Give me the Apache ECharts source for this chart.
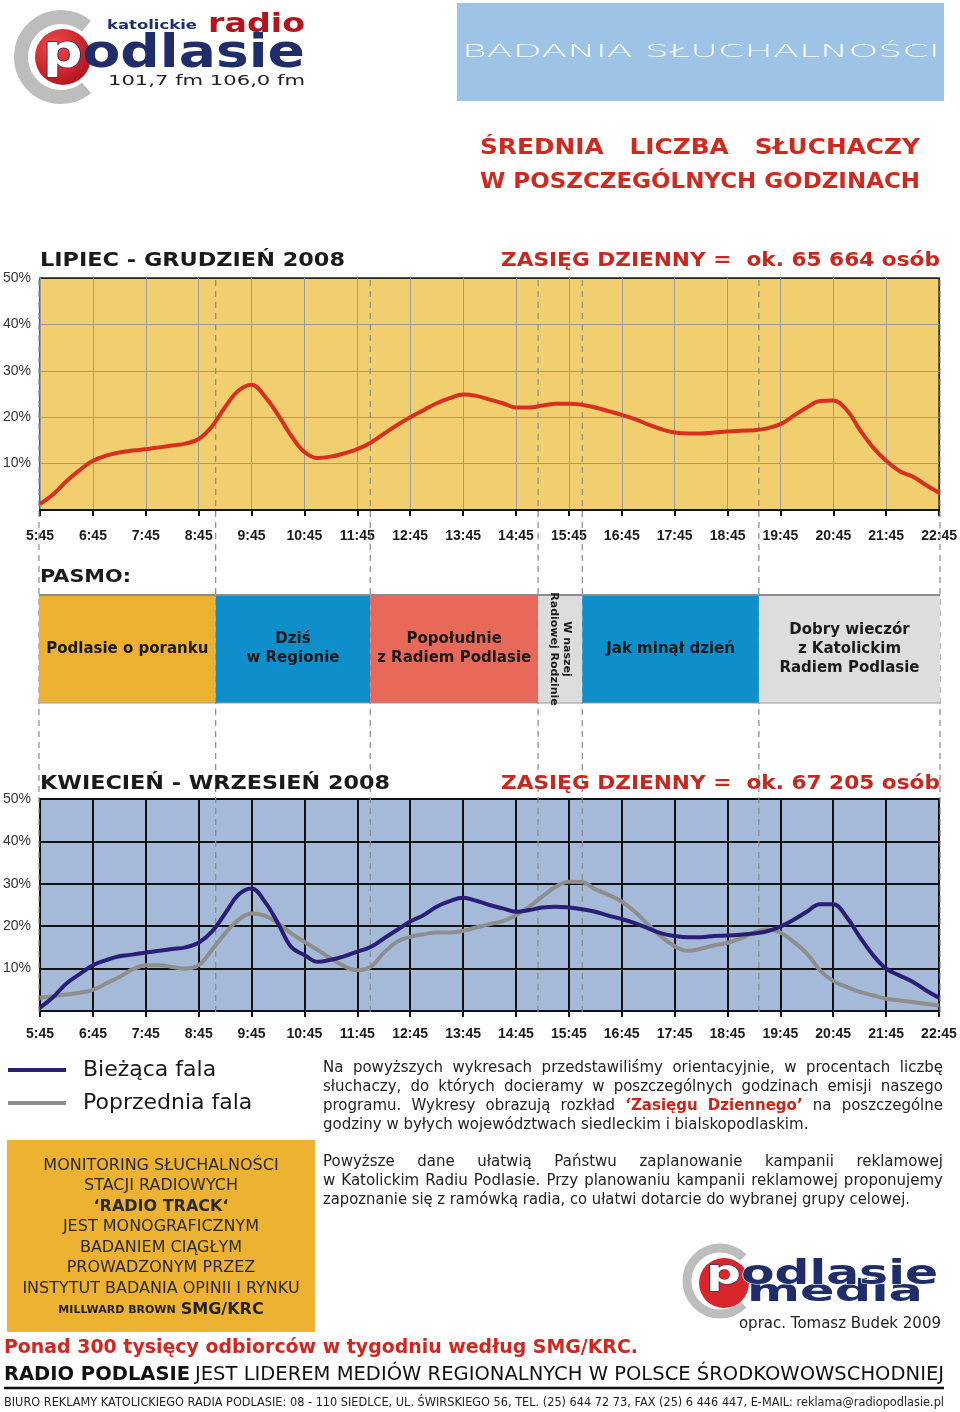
<!DOCTYPE html>
<html><head><meta charset="utf-8">
<script src="https://cdn.jsdelivr.net/npm/echarts@6/dist/echarts.min.js"></script>
<style>html,body{margin:0;padding:0;background:#fff}#c{width:960px;height:1412px}</style>
</head><body><div id="c"></div>
<script>
// ---------- DATA ----------
const hourLabels = ['5:45','6:45','7:45','8:45','9:45','10:45','11:45','12:45','13:45','14:45','15:45','16:45','17:45','18:45','19:45','20:45','21:45','22:45'];
// quarter-hour samples from 5:45 to 22:45 (percent of listeners)
const lipiecGrudzien = [
 1.3,3.4,6.2,8.6, 10.6,11.7,12.4,12.8, 13.1,13.5,13.9,14.3, 15.3,18.0,22.2,25.7,
 27.0,24.5,20.5,16.0, 12.5,11.2,11.5,12.2, 13.1,14.5,16.4,18.3, 20.0,21.5,23.0,24.1,
 24.9,24.6,23.8,23.0, 22.1,22.1,22.5,22.9, 22.9,22.7,22.1,21.3, 20.5,19.6,18.4,17.4,
 16.7,16.5,16.5,16.7, 16.9,17.1,17.2,17.6, 18.5,20.3,22.1,23.5, 23.6,21.6,17.3,13.5,
 10.6,8.4,7.2,5.4, 3.7];
const biezacaFala = [
 0.8,3.3,6.5,8.7, 10.8,12.0,12.9,13.3, 13.8,14.2,14.6,15.0, 16.1,18.7,23.0,27.4,
 28.9,25.8,20.7,15.1, 13.2,11.6,12.1,12.9, 14.0,15.1,17.1,19.1, 21.1,22.6,24.6,25.9,
 26.7,26.0,25.0,24.2, 23.4,23.8,24.4,24.6, 24.4,24.0,23.4,22.5, 21.7,20.7,19.5,18.3,
 17.7,17.4,17.4,17.7, 17.8,18.0,18.3,18.8, 19.9,21.5,23.4,25.2, 25.2,22.2,17.5,13.2,
 10.0,8.4,6.9,4.9, 3.1];
const poprzedniaFala = [
 3.1,3.5,3.9,4.3, 5.0,6.5,8.0,9.8, 10.8,10.8,10.4,10.0, 10.8,14.4,18.3,21.5,
 23.0,22.5,20.7,18.3, 16.3,14.4,12.4,10.6, 9.6,10.4,13.7,16.3, 17.5,18.1,18.5,18.5,
 18.9,19.7,20.5,21.2, 22.6,24.6,27.0,29.3, 30.5,30.4,28.7,27.4, 25.8,23.4,20.4,17.5,
 15.3,14.2,14.7,15.5, 16.1,17.1,18.5,19.2, 18.5,16.3,13.6,9.6, 7.1,5.7,4.5,3.7,
 2.9,2.5,2.1,1.7, 1.3];
const pasmoNames = ['Podlasie o poranku','Dziś\nw Regionie','Popołudnie\nz Radiem Podlasie','W naszej\nRadiowej Rodzinie','Jak minął dzień','Dobry wieczór\nz Katolickim\nRadiem Podlasie'];
const pasmoStart = ['5:45','9:05','12:00','15:10','16:00','19:20'];
const pasmoEnd   = ['9:05','12:00','15:10','16:00','19:20','22:45'];
const pasmoColors = ['#EDB132','#0E8FCB','#E8695A','#DCDCDC','#0E8FCB','#DDDDDD'];
const dashTimes = ['5:45','9:05','12:00','15:10','16:00','19:20','22:45'];

// ---------- helpers ----------
function toH(t){ const [h,m]=t.split(':').map(Number); return (h*60+m-345)/60; }
function pairs(arr){ return arr.map((v,i)=>[i/4, v]); }
const mctx = document.createElement('canvas').getContext('2d');
function tw(font, s){ mctx.font = font; return mctx.measureText(s).width; }
const G = [];
function addText(x, y, text, font, fill, o){
  o = o || {};
  const el = {type:'text', x:x, y:y, z:10, silent:true, style:{text:text, font:font, fill:fill, align:o.align||'left', verticalAlign:'middle'}};
  if (o.width) el.scaleX = o.width / tw(font, text);
  if (o.stroke){ el.style.stroke = o.stroke; el.style.lineWidth = o.lineWidth||1; }
  G.push(el); return el;
}
function justify(x, y, width, line, font, fill, hiFont, hiFill){
  const parts = line.split(' ').map(w=>{ const hi = w.indexOf('*')===0; const t = w.replace(/\*/g,''); const f = hi?hiFont:font; return {t:t, f:f, c:hi?hiFill:fill, w:tw(f,t)}; });
  const total = parts.reduce((a,p)=>a+p.w,0);
  const gap = (width-total)/(parts.length-1);
  let cx = x;
  parts.forEach(p=>{ G.push({type:'text', x:cx, y:y, z:10, silent:true, style:{text:p.t, font:p.f, fill:p.c, verticalAlign:'middle'}}); cx += p.w+gap; });
}
const DV = '"DejaVu Sans"';
const NAVY = '#1F2D6B';

// ---------- header ----------
G.push({type:'arc', z:9, silent:true, shape:{cx:61, cy:57, r:40, startAngle:0.28*Math.PI, endAngle:1.72*Math.PI, clockwise:true}, style:{stroke:'#BDBDBD', lineWidth:14, fill:null}});
G.push({type:'circle', z:9, silent:true, shape:{cx:63, cy:57, r:28}, style:{fill:{type:'radial', x:0.35, y:0.3, r:0.8, colorStops:[{offset:0,color:'#EE4A4A'},{offset:1,color:'#B0101A'}]}}});
addText(107, 26, 'katolickie', 'bold 12px '+DV, NAVY, {width:90});
addText(208, 25, 'radio', 'bold 26px '+DV, '#B5121B', {width:97});
(function(){
  const f = 'bold 46px '+DV;
  G.push({type:'text', x:43, y:55, z:10, silent:true, scaleX: 262/tw(f,'podlasie'),
    style:{text:'{w|p}{n|odlasie}', verticalAlign:'middle', font:f,
      rich:{w:{fill:'#fff', stroke:NAVY, lineWidth:1.5, fontSize:46, fontWeight:'bold', fontFamily:'DejaVu Sans'},
            n:{fill:NAVY, fontSize:46, fontWeight:'bold', fontFamily:'DejaVu Sans'}}}});
})();
addText(108, 81, '101,7 fm 106,0 fm', '14px '+DV, '#222', {width:197});

G.push({type:'rect', z:9, silent:true, shape:{x:457, y:3, width:487, height:98}, style:{fill:'#9DC3E6'}});
addText(462, 52, 'BADANIA SŁUCHALNOŚCI', '200 18px '+DV, '#FFFFFF', {width:478});

addText(480, 148, 'ŚREDNIA   LICZBA   SŁUCHACZY', 'bold 22px '+DV, '#D02A1F', {width:440});
addText(480, 182, 'W POSZCZEGÓLNYCH GODZINACH', 'bold 22px '+DV, '#D02A1F', {width:440});

// chart titles
addText(40, 261, 'LIPIEC - GRUDZIEŃ 2008', 'bold 20px '+DV, '#1a1a1a', {width:305});
addText(501, 261, 'ZASIĘG DZIENNY =  ok. 65 664 osób', 'bold 19px '+DV, '#C9271E', {width:439});
addText(40, 577, 'PASMO:', 'bold 18px '+DV, '#1a1a1a', {width:91});
addText(40, 784, 'KWIECIEŃ - WRZESIEŃ 2008', 'bold 20px '+DV, '#1a1a1a', {width:350});
addText(501, 784, 'ZASIĘG DZIENNY =  ok. 67 205 osób', 'bold 19px '+DV, '#C9271E', {width:439});

// paragraphs
const PF = '15px '+DV, PB = 'bold 15px '+DV;
justify(323, 1068, 620, 'Na powyższych wykresach przedstawiliśmy orientacyjnie, w procentach liczbę', PF, '#222', PB, '#C9271E');
justify(323, 1087, 620, 'słuchaczy, do których docieramy w poszczególnych godzinach emisji naszego', PF, '#222', PB, '#C9271E');
justify(323, 1106, 620, 'programu. Wykresy obrazują rozkład *‘Zasięgu *Dziennego’ na poszczególne', PF, '#222', PB, '#C9271E');
addText(323, 1125, 'godziny w byłych województwach siedleckim i bialskopodlaskim.', PF, '#222');
justify(323, 1162, 620, 'Powyższe dane ułatwią Państwu zaplanowanie kampanii reklamowej', PF, '#222', PB, '#C9271E');
justify(323, 1181, 620, 'w Katolickim Radiu Podlasie. Przy planowaniu kampanii reklamowej proponujemy', PF, '#222', PB, '#C9271E');
addText(323, 1200, 'zapoznanie się z ramówką radia, co ułatwi dotarcie do wybranej grupy celowej.', PF, '#222', {width:587});

// orange box
G.push({type:'rect', z:9, silent:true, shape:{x:7, y:1140, width:308, height:192}, style:{fill:'#EEB233'}});
const boxLines = ['MONITORING SŁUCHALNOŚCI','STACJI RADIOWYCH','‘RADIO TRACK‘','JEST MONOGRAFICZNYM','BADANIEM CIĄGŁYM','PROWADZONYM PRZEZ','INSTYTUT BADANIA OPINII I RYNKU'];
const boxY = [1166,1186,1207,1227,1248,1268,1289];
boxLines.forEach((l,i)=>{ addText(161, boxY[i], l, (i===2?'bold ':'')+'16px '+DV, '#2a2a2a', {align:'center'}); });
G.push({type:'text', x:161, y:1310, z:10, silent:true, style:{text:'{s|MILLWARD BROWN} {b|SMG/KRC}', align:'center', verticalAlign:'middle', font:'16px '+DV,
  rich:{s:{fontSize:11, fontWeight:'bold', fontFamily:'DejaVu Sans', fill:'#222'}, b:{fontSize:16, fontWeight:'bold', fontFamily:'DejaVu Sans', fill:'#222'}}}});

// media logo
G.push({type:'arc', z:9, silent:true, shape:{cx:720, cy:1281, r:33, startAngle:0.25*Math.PI, endAngle:1.75*Math.PI, clockwise:true}, style:{stroke:'#BDBDBD', lineWidth:9, fill:null}});
G.push({type:'circle', z:9, silent:true, shape:{cx:724, cy:1283, r:25}, style:{fill:'#D8262A'}});
(function(){
  const f2 = 'bold 30px '+DV;
  G.push({type:'text', x:747, y:1293, z:10, silent:true, scaleX:176/tw(f2,'media'), style:{text:'media', font:f2, fill:NAVY, stroke:'#fff', lineWidth:1.5, verticalAlign:'middle'}});
  const f = 'bold 34px '+DV;
  G.push({type:'text', x:706, y:1275, z:11, silent:true, scaleX: 232/tw(f,'podlasie'),
    style:{text:'{w|p}{n|odlasie}', verticalAlign:'middle', font:f,
      rich:{w:{fill:'#fff', stroke:NAVY, lineWidth:1, fontSize:34, fontWeight:'bold', fontFamily:'DejaVu Sans'},
            n:{fill:NAVY, stroke:'#fff', lineWidth:1, fontSize:34, fontWeight:'bold', fontFamily:'DejaVu Sans'}}}});
})();
addText(941, 1324, 'oprac. Tomasz Budek 2009', '15px '+DV, '#222', {align:'right'});

// bottom lines
addText(4, 1348, 'Ponad 300 tysięcy odbiorców w tygodniu według SMG/KRC.', 'bold 19px '+DV, '#D2261E', {width:634});
addText(4, 1375, 'RADIO PODLASIE', 'bold 20px '+DV, '#111', {width:186});
addText(195, 1375, 'JEST LIDEREM MEDIÓW REGIONALNYCH W POLSCE ŚRODKOWOWSCHODNIEJ', '20px '+DV, '#111', {width:749});
G.push({type:'line', z:9, silent:true, shape:{x1:4, y1:1388, x2:944, y2:1388}, style:{stroke:'#111', lineWidth:2.5}});
addText(4, 1403, 'BIURO REKLAMY KATOLICKIEGO RADIA PODLASIE: 08 - 110 SIEDLCE, UL. ŚWIRSKIEGO 56, TEL. (25) 644 72 73, FAX (25) 6 446 447, E-MAIL: reklama@radiopodlasie.pl', '12px '+DV, '#222', {width:940});

// ---------- chart ----------
const AXF = 'Liberation Sans';
function xAx(gi, split, margin){
  return {gridIndex:gi, type:'value', min:0, max:17, interval:1,
    axisLine:{lineStyle:{color:'#111', width:2}},
    axisTick:{show:true, length:6, lineStyle:{color:'#111', width:2}},
    axisLabel:{formatter:v=>hourLabels[Math.round(v)], margin:margin, fontWeight:'bold', fontSize:14, color:'#1a1a1a', fontFamily:AXF},
    splitLine:{show:true, lineStyle:split}};
}
function yAx(gi, split){
  return {gridIndex:gi, type:'value', min:0, max:50, interval:10,
    axisLine:{show:false}, axisTick:{show:false},
    axisLabel:{formatter:v=>v?v+'%':'', margin:9, fontSize:14, color:'#333', fontFamily:AXF},
    splitLine:{show:true, lineStyle:split}};
}
const vTop = hourLabels.map((l,i)=> i===hourLabels.length-1 ? '#222' : '#9a9a9a');
const hTop = ['#9a9a9a','#9a9a9a','#9a9a9a','#9a9a9a','#9a9a9a','#222'];
const chart = echarts.init(document.getElementById('c'));
chart.setOption({
  animation:false,
  backgroundColor:'#fff',
  grid:[
    {left:40, top:278, width:901, height:232, show:true, backgroundColor:'#F2CF6E', borderColor:'#222', borderWidth:1.5},
    {left:38, top:799, width:901, height:212, show:true, backgroundColor:'#A5B9D8', borderColor:'#111', borderWidth:2},
    {left:39, top:595, width:901, height:108, show:false}
  ],
  xAxis:[
    xAx(0, {color:vTop, width:1}, 19),
    xAx(1, {color:'#111', width:2}, 16),
    {gridIndex:2, type:'value', min:0, max:17, show:false}
  ],
  yAxis:[
    yAx(0, {color:hTop, width:1.2}),
    yAx(1, {color:'#111', width:2}),
    {gridIndex:2, type:'value', min:0, max:1, show:false}
  ],
  legend:{data:['Bieżąca fala','Poprzednia fala'], orient:'vertical', left:8, top:1059, padding:0, itemWidth:58, itemHeight:4, icon:'rect', itemGap:11, selectedMode:false,
    textStyle:{fontSize:22, fontFamily:'DejaVu Sans', color:'#1a1a1a', padding:[0,0,0,12]}},
  graphic:{elements:G},
  series:[
    {type:'custom', name:'dash', xAxisIndex:2, yAxisIndex:2, z:1, silent:true, clip:false,
      data:dashTimes.map(t=>[toH(t),0]),
      renderItem:(p,api)=>{ const x = api.coord([api.value(0),0])[0];
        return {type:'line', shape:{x1:x,y1:280,x2:x,y2:1012}, style:{stroke:'#8a8a8a', lineWidth:1.2, lineDash:[6,5]}}; }},
    {type:'custom', name:'pasmo', xAxisIndex:2, yAxisIndex:2, z:5, silent:true,
      data:pasmoNames.map((n,i)=>[toH(pasmoStart[i]), toH(pasmoEnd[i])]),
      renderItem:(p,api)=>{
        const i = p.dataIndex;
        const a = api.coord([api.value(0),0]), b = api.coord([api.value(1),1]);
        const x = a[0], w = b[0]-a[0], y = b[1], h = a[1]-b[1];
        const vertical = w < 60;
        return {type:'group', children:[
          {type:'rect', shape:{x:x,y:y,width:w,height:h}, style:{fill:pasmoColors[i]}},
          {type:'line', shape:{x1:x,y1:y,x2:x+w,y2:y}, style:{stroke:'#8c8c8c', lineWidth:2}},
          {type:'line', shape:{x1:x,y1:y+h,x2:x+w,y2:y+h}, style:{stroke:'#9a9a9a', lineWidth:1}},
          {type:'text', x:x+w/2, y:y+h/2, rotation: vertical ? -Math.PI/2 : 0,
            style:{text:pasmoNames[i], fill:'#1a1a1a', font: vertical ? 'bold 11px "DejaVu Sans"' : 'bold 15px "DejaVu Sans"',
              lineHeight: vertical ? 13 : 19, align:'center', verticalAlign:'middle'}}
        ]};
      }},
    {type:'line', name:'Lipiec - Grudzień 2008', xAxisIndex:0, yAxisIndex:0, z:3, data:pairs(lipiecGrudzien), smooth:0.4, showSymbol:false,
      lineStyle:{color:'#D7301F', width:4}, itemStyle:{color:'#D7301F'}},
    {type:'line', name:'Poprzednia fala', xAxisIndex:1, yAxisIndex:1, z:3, data:pairs(poprzedniaFala), smooth:0.4, showSymbol:false,
      lineStyle:{color:'#8E8E8E', width:4}, itemStyle:{color:'#8E8E8E'}},
    {type:'line', name:'Bieżąca fala', xAxisIndex:1, yAxisIndex:1, z:4, data:pairs(biezacaFala), smooth:0.4, showSymbol:false,
      lineStyle:{color:'#2A1F78', width:4}, itemStyle:{color:'#2A1F78'}}
  ]
});
</script></body></html>
